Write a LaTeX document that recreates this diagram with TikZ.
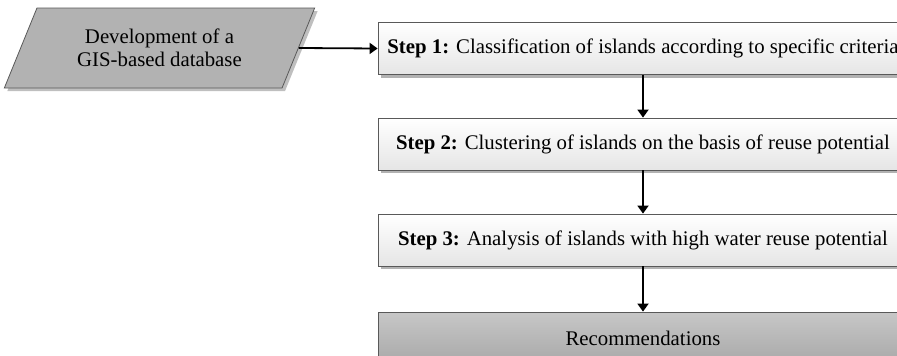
\documentclass[tikz,border=0pt]{standalone}
\usepackage{fontspec}
\setmainfont{Liberation Serif}
\usetikzlibrary{shapes.geometric,shadows,arrows.meta}
\begin{document}
\begin{tikzpicture}[x=1pt, y=-1pt,
        every node/.style={font=\fontsize{20.8}{22.5}\selectfont},
        stepbox/.style={draw=black!65, line width=0.8pt, minimum width=530pt, minimum height=52pt,
            inner xsep=2pt, top color=white, bottom color=black!10,
            drop shadow={shadow xshift=3pt, shadow yshift=-3pt, fill=black!30, opacity=1}},
        endbox/.style={stepbox, top color=black!22, bottom color=black!34},
        inbox/.style={trapezium, trapezium left angle=60.6, trapezium right angle=119.4,
            trapezium stretches=true, draw=black!65, line width=0.8pt, fill=black!30,
            minimum width=311pt, minimum height=80pt, align=center, inner sep=1pt,
            drop shadow={shadow xshift=3pt, shadow yshift=-3pt, fill=black!25, opacity=1}},
        flow/.style={line width=1.8pt, -{Triangle[width=11pt,length=8pt]}}]
    \useasboundingbox (0,0) rectangle (897,356);
    \clip (0,0) rectangle (897,356);
        \node[inbox] (gis) at (159.5,48) {Development of a\\GIS-based database};
        \node[stepbox] (step1) at (643,48.5) {\textbf{Step 1:} Classification of islands according to specific criteria};
        \node[stepbox] (step2) at (643,144) {\textbf{Step 2:} Clustering of islands on the basis of reuse potential};
        \node[stepbox] (step3) at (643,240) {\textbf{Step 3:} Analysis of islands with high water reuse potential};
        \node[endbox] (rec) at (643,338) {Recommendations};
        \draw[flow] (gis.east) -- (step1.west);
        \draw[flow] (step1) -- (step2);
        \draw[flow] (step2) -- (step3);
        \draw[flow] (step3) -- (rec);
\end{tikzpicture}
\end{document}
